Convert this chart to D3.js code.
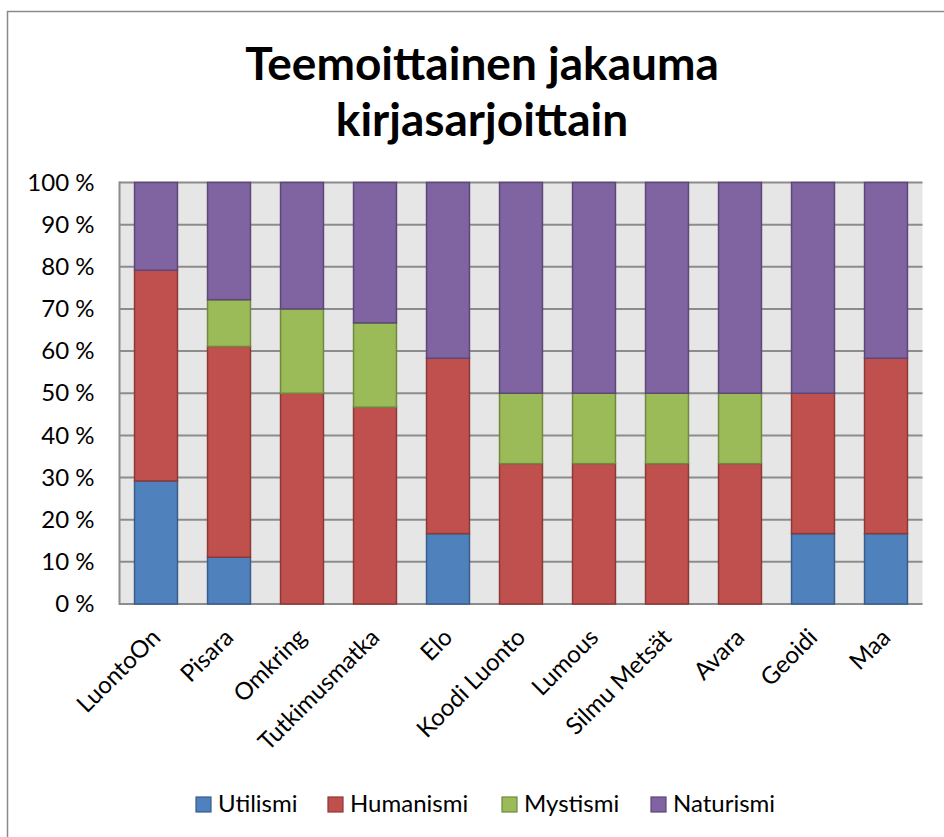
<!DOCTYPE html>
<html>
<head>
<meta charset="utf-8">
<script src="https://cdn.jsdelivr.net/npm/d3@7/dist/d3.min.js"></script>
<style>
  body { margin: 0; background: #fff; }
  svg text { font-family: Lato, "Open Sans", sans-serif; fill: #000; }
</style>
</head>
<body>
<svg id="chart" width="944" height="837"></svg>
<script>
// categories (book series) and theme shares in percent
var series = ["LuontoOn", "Pisara", "Omkring", "Tutkimusmatka", "Elo", "Koodi Luonto",
              "Lumous", "Silmu Metsät", "Avara", "Geoidi", "Maa"];
var themes = ["Utilismi", "Humanismi", "Mystismi", "Naturismi"];

var utilismi  = [29.2, 11.1, 0,  0,    16.7, 0,    0,    0,    0,    16.7, 16.7];
var humanismi = [50,   50,   50, 46.7, 41.6, 33.3, 33.3, 33.3, 33.3, 33.3, 41.6];
var mystismi  = [0,    11.1, 20, 20,   0,    16.7, 16.7, 16.7, 16.7, 0,    0];
var naturismi = [20.8, 27.8, 30, 33.3, 41.7, 50,   50,   50,   50,   50,   41.7];

var yTicks = [0, 10, 20, 30, 40, 50, 60, 70, 80, 90, 100];

var fills   = ["#4f81bd", "#c0504d", "#9bbb59", "#8064a2"];
var strokes = ["#385d8a", "#8c3836", "#71893f", "#5c4776"];

var svg = d3.select("#chart");

// outer chart frame (runs past the window on right/bottom like the picture)
svg.append("rect")
  .attr("x", 7.5).attr("y", 11.5)
  .attr("width", 960).attr("height", 860)
  .attr("fill", "#fff")
  .attr("stroke", "#8a8a8a")
  .attr("stroke-width", 1.5);

// title
var title = svg.append("text")
  .attr("x", 482)
  .attr("text-anchor", "middle")
  .attr("font-weight", "bold")
  .attr("font-size", 46);
title.append("tspan").attr("x", 482).attr("y", 80).text("Teemoittainen jakauma");
title.append("tspan").attr("x", 482).attr("y", 136).text("kirjasarjoittain");

var plot = {left: 119.5, right: 922.5, top: 182.5, bottom: 604};

var x = d3.scaleBand()
  .domain(series)
  .range([plot.left, plot.right])
  .paddingInner(0.412)
  .paddingOuter(0.206);

var y = d3.scaleLinear()
  .domain([0, 100])
  .range([plot.bottom, plot.top]);

// build stacked data
var rows = [];
for (var i = 0; i < series.length; i++) {
  rows.push({name: series[i], Utilismi: utilismi[i], Humanismi: humanismi[i],
             Mystismi: mystismi[i], Naturismi: naturismi[i]});
}
var stacked = d3.stack().keys(themes)(rows);

// background
svg.append("rect")
  .attr("x", plot.left).attr("y", plot.top)
  .attr("width", plot.right - plot.left)
  .attr("height", plot.bottom - plot.top)
  .attr("fill", "#e6e6e6");

// gridlines
svg.append("g")
  .selectAll("line")
  .data(yTicks)
  .enter()
  .append("line")
  .attr("x1", plot.left).attr("x2", plot.right)
  .attr("y1", d => y(d)).attr("y2", d => y(d))
  .attr("stroke", "#8c8c8c")
  .attr("stroke-width", 2);

// left axis line
svg.append("line")
  .attr("x1", plot.left).attr("x2", plot.left)
  .attr("y1", plot.top - 1).attr("y2", plot.bottom + 1)
  .attr("stroke", "#8c8c8c")
  .attr("stroke-width", 2);

// bars
var layers = svg.append("g")
  .selectAll("g")
  .data(stacked)
  .enter()
  .append("g")
  .attr("fill", (d, i) => fills[i])
  .attr("stroke", (d, i) => strokes[i]);

layers.selectAll("rect")
  .data(d => d.filter(p => p[1] - p[0] > 0))
  .enter()
  .append("rect")
  .attr("x", d => x(d.data.name))
  .attr("y", d => y(d[1]))
  .attr("width", x.bandwidth())
  .attr("height", d => y(d[0]) - y(d[1]))
  .attr("stroke-width", 1.5);

// y axis labels
var yAxis = d3.axisLeft(y)
  .tickValues(yTicks)
  .tickSize(0)
  .tickPadding(25)
  .tickFormat(d => d + " %");
svg.append("g")
  .attr("transform", "translate(" + plot.left + ",0)")
  .call(yAxis)
  .call(g => g.select(".domain").remove())
  .selectAll("text")
  .attr("font-size", 24)
  .style("font-family", "Lato, sans-serif")
  .attr("fill", "#000");

// x axis labels (rotated)
var xAxis = d3.axisBottom(x).tickSize(0).tickPadding(0);
svg.append("g")
  .attr("transform", "translate(0," + plot.bottom + ")")
  .call(xAxis)
  .call(g => g.select(".domain").remove())
  .selectAll("text")
  .attr("font-size", 24)
  .style("font-family", "Lato, sans-serif")
  .attr("fill", "#000")
  .attr("text-anchor", "end")
  .attr("dy", "0.35em")
  .attr("y", 0)
  .attr("transform", "translate(0,29) rotate(-45)");

// legend
var legendX = [196, 328, 502, 651];
var legend = svg.append("g");
legend.selectAll("rect")
  .data(themes)
  .enter()
  .append("rect")
  .attr("x", (d, i) => legendX[i])
  .attr("y", 797)
  .attr("width", 15).attr("height", 15)
  .attr("fill", (d, i) => fills[i])
  .attr("stroke", (d, i) => strokes[i])
  .attr("stroke-width", 1.2);
legend.selectAll("text")
  .data(themes)
  .enter()
  .append("text")
  .attr("x", (d, i) => legendX[i] + 22)
  .attr("y", 812)
  .attr("font-size", 24)
  .text(d => d);
</script>
</body>
</html>
